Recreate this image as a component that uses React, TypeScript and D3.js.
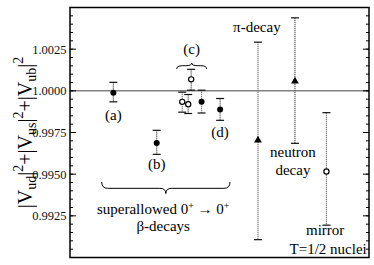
import React from "react";
import * as d3 from "d3";

// Data
const pointNames = ["(a)", "(b)", "c1", "c2", "c3", "c4", "(d)", "pi", "neutron", "mirror"];
const xPos = [4.35, 8.7, 11.26, 11.86, 12.16, 13.2, 15.06, 18.86, 22.57, 25.73];
const values = [0.99988, 0.99687, 0.99934, 0.9992, 1.00069, 0.99934, 0.99888, 0.99703, 1.00058, 0.99516];
const upper = [1.00051, 0.99763, 0.99992, 0.99978, 1.00129, 1.00004, 0.99954, 1.00292, 1.00438, 0.99869];
const lower = [0.99934, 0.99619, 0.99872, 0.99864, 1.00004, 0.99867, 0.99823, 0.99107, 0.99685, 0.99194];
const markers = ["filled", "filled", "open", "open", "open", "filled", "filled", "triangle", "triangle", "open"];
const yTicks = [0.9925, 0.995, 0.9975, 1.0, 1.0025];
const yTickLabels = ["0.9925", "0.9950", "0.9975", "1.0000", "1.0025"];
const yDomain = [0.99, 1.005];
const xDomain = [0, 30];

const W = 374;
const H = 265;
const TS = { fontFamily: "Liberation Serif" };

function bracePath(x1: number, x2: number, y0: number, h: number, dir: number) {
  const xm = (x1 + x2) / 2;
  const yl = y0 + dir * h * 0.55;
  const yt = y0 + dir * h;
  const r = 6;
  return `M${x1},${y0} Q${x1},${yl} ${x1 + r},${yl} L${xm - r},${yl} Q${xm},${yl} ${xm},${yt} Q${xm},${yl} ${xm + r},${yl} L${x2 - r},${yl} Q${x2},${yl} ${x2},${y0}`;
}

export default function App() {
  const left = 70, right = 369, top = 7.5, bottom = 257.5;
  const x = d3.scaleLinear().domain(xDomain).range([left, right]);
  const y = d3.scaleLinear().domain(yDomain).range([bottom, top]);
  const minor = d3.range(0, 31).map((i) => yDomain[0] + i * 0.0005);
  const tri = d3.symbol().type(d3.symbolTriangle).size(26)();

  const sub = 0.7;
  return (
    <div style={{ position: "absolute", left: 0, top: 0 }}>
      <svg width={W} height={H} style={{ display: "block", background: "#fff" }}>
        <line x1={left} x2={right} y1={y(1)} y2={y(1)} stroke="#444" strokeWidth={1} />
        {minor.map((v, i) => (
          <g key={"m" + i}>
            <line x1={left} x2={left + 3} y1={y(v)} y2={y(v)} stroke="#000" strokeWidth={1} />
            <line x1={right - 3} x2={right} y1={y(v)} y2={y(v)} stroke="#000" strokeWidth={1} />
          </g>
        ))}
        {yTicks.map((v, i) => (
          <g key={"t" + i}>
            <line x1={left} x2={left + 6} y1={y(v)} y2={y(v)} stroke="#000" strokeWidth={1} />
            <line x1={right - 6} x2={right} y1={y(v)} y2={y(v)} stroke="#000" strokeWidth={1} />
            <text x={left - 3.5} y={y(v)} dy="0.35em" textAnchor="end" fontSize={12.5} fill="#111" style={TS}>
              {yTickLabels[i]}
            </text>
          </g>
        ))}
        <rect x={left} y={top} width={right - left} height={bottom - top} fill="none" stroke="#000" strokeWidth={1.5} />

        {xPos.map((xv, i) => (
          <g key={"e" + i}>
            <line x1={x(xv)} x2={x(xv)} y1={y(upper[i])} y2={y(lower[i])} stroke="#555" strokeWidth={1.2} strokeDasharray="1.2,0.8" />
            <line x1={x(xv) - 4} x2={x(xv) + 4} y1={y(upper[i])} y2={y(upper[i])} stroke="#111" strokeWidth={1.2} />
            <line x1={x(xv) - 4} x2={x(xv) + 4} y1={y(lower[i])} y2={y(lower[i])} stroke="#111" strokeWidth={1.2} />
          </g>
        ))}
        {xPos.map((xv, i) => {
          const m = markers[i];
          if (m === "triangle")
            return <path key={"p" + i} d={tri || ""} transform={`translate(${x(xv)},${y(values[i])})`} fill="#000" />;
          if (m === "open")
            return <circle key={"p" + i} cx={x(xv)} cy={y(values[i])} r={2.6} fill="#fff" stroke="#000" strokeWidth={1.2} />;
          return <circle key={"p" + i} cx={x(xv)} cy={y(values[i])} r={3} fill="#000" />;
        })}

        <text x={x(xPos[0])} y={120} textAnchor="middle" fontSize={15} style={TS}>(a)</text>
        <text x={x(xPos[1])} y={168.5} textAnchor="middle" fontSize={15} style={TS}>(b)</text>
        <text x={x(12.2)} y={54} textAnchor="middle" fontSize={15} style={TS}>(c)</text>
        <text x={x(xPos[6])} y={137} textAnchor="middle" fontSize={15} style={TS}>(d)</text>
        <path d={bracePath(x(10.7), x(13.72), 69, -6, 1)} fill="none" stroke="#000" strokeWidth={1} />
        <path d={bracePath(x(3.18), x(16.05), 182, 11.5, 1)} fill="none" stroke="#000" strokeWidth={1} />

        <text x={x(9.35)} y={214} textAnchor="middle" fontSize={15} style={TS}>
          superallowed 0<tspan dy={-5} fontSize={10}>+</tspan>
          <tspan dy={5}> → 0</tspan>
          <tspan dy={-5} fontSize={10}>+</tspan>
        </text>
        <text x={x(9.35)} y={230.5} textAnchor="middle" fontSize={15} style={TS}>β-decays</text>

        <text x={x(18.75)} y={31.5} textAnchor="middle" fontSize={15} style={TS}>π-decay</text>
        <text x={x(22.37)} y={157} textAnchor="middle" fontSize={15} style={TS}>neutron</text>
        <text x={x(22.37)} y={175} textAnchor="middle" fontSize={15} style={TS}>decay</text>
        <text x={x(25.6)} y={235} textAnchor="middle" fontSize={15} style={TS}>mirror</text>
        <text x={x(25.9)} y={254} textAnchor="middle" fontSize={15} style={TS}>T=1/2 nuclei</text>

        <text transform={`translate(32,${(top + bottom) / 2}) rotate(-90)`} textAnchor="middle" fontSize={20} style={TS}>
          |V<tspan fontSize={20 * sub} dy={4}>ud</tspan>
          <tspan dy={-4}>|</tspan>
          <tspan fontSize={20 * sub} dy={-9}>2</tspan>
          <tspan dy={9}>+|V</tspan>
          <tspan fontSize={20 * sub} dy={4}>us</tspan>
          <tspan dy={-4}>|</tspan>
          <tspan fontSize={20 * sub} dy={-9}>2</tspan>
          <tspan dy={9}>+|V</tspan>
          <tspan fontSize={20 * sub} dy={4}>ub</tspan>
          <tspan dy={-4}>|</tspan>
          <tspan fontSize={20 * sub} dy={-9}>2</tspan>
        </text>
      </svg>
    </div>
  );
}
